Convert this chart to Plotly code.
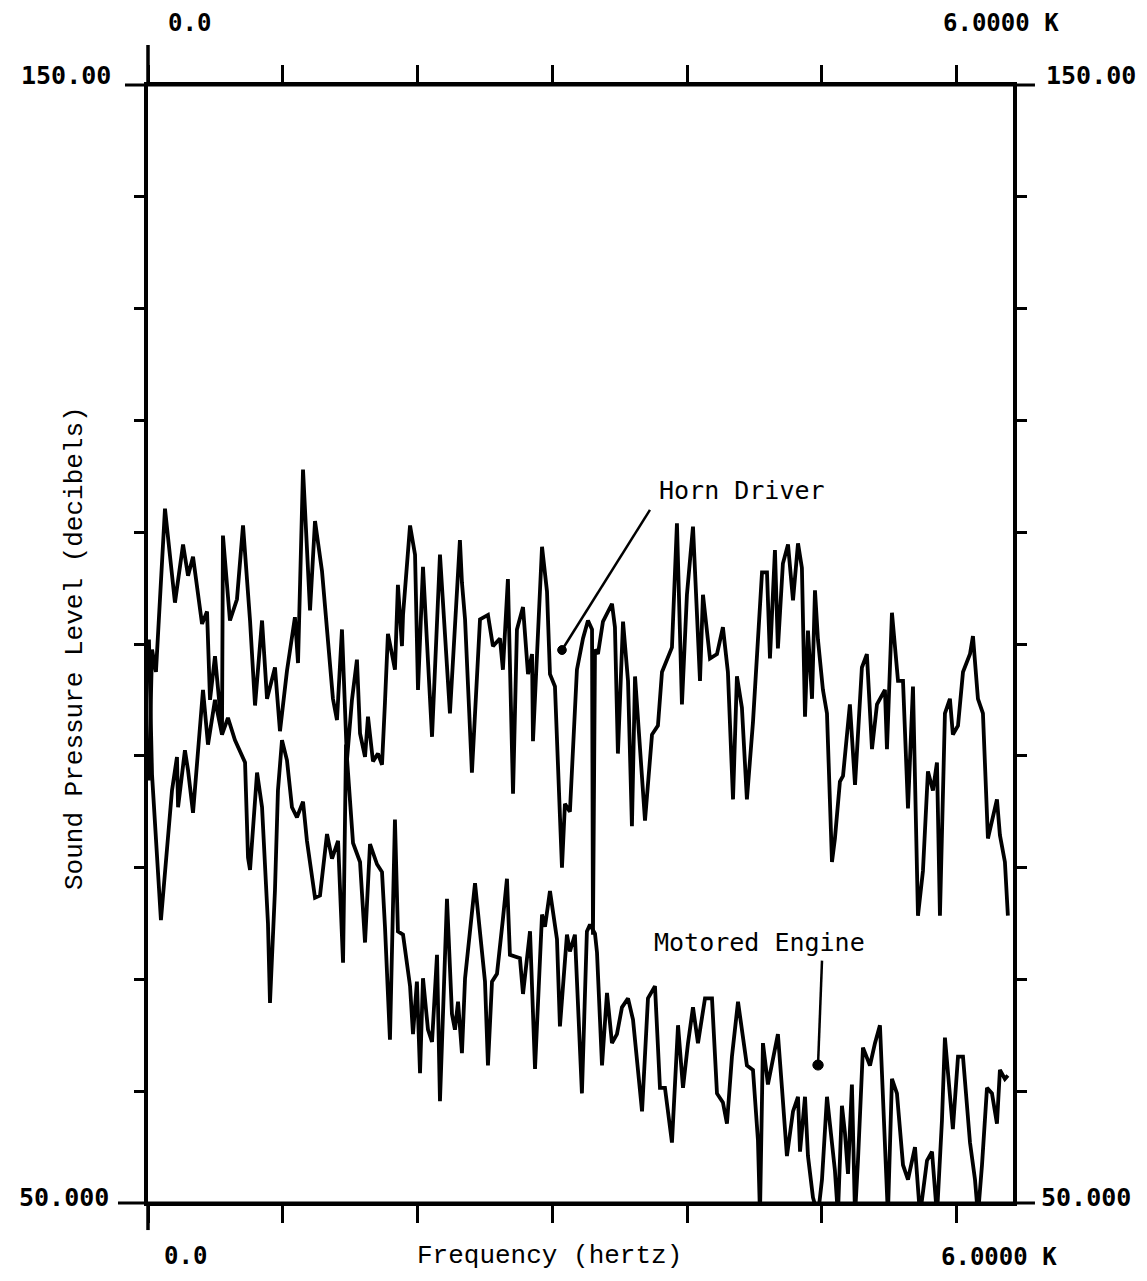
import plotly.graph_objects as go

# ---- data (frequency in Hz, level in dB) ----
horn_freq = [7, 30, 59, 126, 200, 260, 297, 334, 401, 438,
             460, 497, 549, 556, 608, 660, 705, 757, 794, 846,
             883, 942, 979, 1031, 1090, 1113, 1150, 1202, 1239, 1291,
             1372, 1402, 1439, 1476, 1513, 1550, 1573, 1610, 1632, 1669,
             1706, 1736, 1758, 1780, 1810, 1832, 1854, 1884, 1892, 1944,
             1981, 2003, 2040, 2107, 2166, 2188, 2240, 2314, 2329, 2352,
             2403, 2463, 2522, 2559, 2611, 2633, 2670, 2708, 2737, 2782,
             2819, 2849, 2856, 2923, 2960, 2982, 3019, 3056, 3071, 3093,
             3130, 3182, 3227, 3264, 3294, 3301, 3316, 3338, 3375, 3442,
             3464, 3486, 3524, 3561, 3590, 3613, 3650, 3687, 3739, 3783,
             3813, 3887, 3924, 3961, 3998, 4043, 4095, 4117, 4169, 4221,
             4265, 4302, 4340, 4369, 4406, 4443, 4488, 4555, 4592, 4614,
             4651, 4673, 4710, 4748, 4785, 4822, 4851, 4874, 4896, 4926,
             4948, 4970, 5007, 5037, 5074, 5096, 5133, 5156, 5207, 5245,
             5296, 5333, 5371, 5408, 5467, 5482, 5519, 5564, 5601, 5638,
             5675, 5712, 5749, 5786, 5823, 5853, 5875, 5912, 5949, 5971,
             6009, 6046, 6098, 6120, 6157, 6194, 6231, 6298, 6320, 6357, 6379]
horn_db = [87.8, 99.5, 97.5, 112.1, 103.7, 108.9, 106.1, 107.8, 101.8, 102.9,
           95.0, 98.9, 92.2, 109.7, 102.1, 104.0, 110.6, 102.1, 94.5, 102.1,
           95.1, 97.9, 92.2, 97.6, 102.4, 98.3, 115.6, 103.0, 111.0, 106.5,
           95.1, 93.2, 101.3, 89.6, 95.0, 98.6, 92.0, 89.9, 93.5, 89.5,
           90.2, 89.2, 94.8, 100.9, 99.1, 97.7, 105.3, 99.8, 102.6, 110.6,
           108.0, 95.9, 106.9, 91.7, 108.0, 103.7, 93.8, 109.3, 105.5, 102.2,
           88.5, 102.2, 102.6, 99.8, 100.5, 97.7, 105.8, 86.6, 101.3, 103.3,
           97.3, 99.1, 91.3, 108.7, 104.7, 97.3, 96.2, 84.6, 80.0, 85.7,
           85.0, 97.7, 100.5, 102.1, 101.3, 74.0, 99.5, 99.1, 102.0, 103.6,
           101.5, 90.2, 102.0, 96.7, 83.7, 97.1, 90.2, 84.2, 91.9, 92.7,
           97.5, 99.7, 110.8, 94.6, 104.4, 110.5, 96.7, 104.4, 98.7, 99.1,
           101.5, 97.5, 86.1, 97.1, 94.3, 86.1, 93.0, 106.4, 106.4, 98.7,
           108.4, 99.6, 107.2, 108.9, 103.9, 109.0, 106.8, 93.5, 101.2, 95.1,
           104.8, 100.4, 95.9, 93.8, 80.5, 82.6, 87.7, 88.2, 94.6, 87.4,
           97.9, 99.1, 90.6, 94.6, 95.9, 90.6, 102.8, 96.7, 96.7, 85.3,
           96.2, 75.7, 79.7, 88.6, 86.9, 89.4, 75.7, 93.8, 95.1, 91.9,
           92.7, 97.5, 99.1, 100.7, 95.1, 93.8, 82.6, 86.1, 82.9, 80.5, 75.7]

engine_freq = [7, 30, 96, 126, 178, 215, 223, 274, 297, 334,
               371, 408, 445, 497, 549, 593, 645, 720, 742, 757,
               809, 846, 890, 905, 942, 964, 994, 1031, 1068, 1105,
               1150, 1179, 1239, 1276, 1328, 1365, 1410, 1447, 1469, 1521,
               1573, 1610, 1647, 1699, 1736, 1758, 1795, 1832, 1854, 1892,
               1944, 1966, 1995, 2018, 2040, 2077, 2107, 2144, 2166, 2218,
               2255, 2277, 2300, 2329, 2352, 2426, 2500, 2522, 2552, 2589,
               2633, 2663, 2685, 2759, 2782, 2834, 2871, 2923, 2945, 2982,
               3034, 3056, 3108, 3130, 3167, 3219, 3256, 3279, 3316, 3331,
               3368, 3405, 3442, 3479, 3516, 3561, 3598, 3665, 3709, 3761,
               3798, 3835, 3887, 3932, 3969, 4006, 4043, 4080, 4132, 4184,
               4221, 4265, 4295, 4332, 4377, 4443, 4488, 4525, 4540, 4562,
               4599, 4636, 4673, 4703, 4740, 4785, 4822, 4837, 4874, 4896,
               4933, 4970, 5000, 5037, 5074, 5096, 5118, 5148, 5170, 5193,
               5222, 5245, 5267, 5304, 5356, 5393, 5430, 5467, 5489, 5519,
               5556, 5601, 5638, 5690, 5727, 5779, 5816, 5853, 5890, 5912,
               5934, 5971, 6009, 6046, 6098, 6135, 6157, 6187, 6224, 6261,
               6298, 6320, 6357, 6379]
engine_db = [100.4, 88.3, 75.3, 79.5, 86.9, 89.9, 85.4, 90.5, 88.7, 84.9,
             90.5, 95.9, 91.0, 95.0, 91.9, 93.4, 91.4, 89.4, 80.9, 79.8,
             88.5, 85.4, 75.0, 67.9, 78.0, 86.9, 91.4, 89.6, 85.4, 84.5,
             85.9, 82.4, 77.3, 77.5, 83.0, 80.8, 82.4, 71.5, 91.0, 82.2,
             80.5, 73.3, 82.1, 80.3, 79.6, 74.7, 64.6, 84.3, 74.3, 74.0,
             69.4, 65.1, 69.8, 61.6, 70.1, 65.5, 64.4, 72.2, 59.1, 77.2,
             66.9, 65.5, 68.0, 63.4, 70.1, 78.6, 69.8, 62.3, 69.8, 70.5,
             75.4, 79.0, 72.2, 71.9, 68.7, 74.3, 62.0, 75.8, 74.7, 77.9,
             73.6, 65.8, 74.0, 72.5, 74.0, 59.8, 74.3, 74.9, 74.1, 72.4,
             62.3, 68.8, 64.3, 65.1, 67.5, 68.3, 66.4, 58.2, 68.3, 69.4,
             60.3, 60.3, 55.4, 65.9, 60.3, 64.3, 67.5, 64.3, 68.3, 68.3,
             59.8, 59.0, 57.1, 63.1, 68.0, 62.3, 61.9, 55.6, 48.9, 64.3,
             60.6, 62.7, 65.1, 60.3, 54.2, 58.2, 59.5, 54.6, 59.5, 54.2,
             50.5, 48.9, 52.1, 59.5, 55.4, 52.9, 48.9, 58.7, 56.3, 52.6,
             60.6, 48.9, 53.8, 63.9, 62.3, 64.3, 65.9, 56.3, 48.9, 61.1,
             59.8, 53.4, 52.1, 55.0, 48.9, 53.8, 54.6, 48.9, 57.4, 64.8,
             61.9, 56.6, 63.1, 63.1, 55.4, 52.1, 48.9, 53.4, 60.3, 59.8,
             57.1, 61.9, 61.1, 61.4]

x_tick_vals = [0, 1000, 2000, 3000, 4000, 5000, 6000]
y_tick_vals = [60, 70, 80, 90, 100, 110, 120, 130, 140]
x_range = [0, 6417]
y_range = [50, 150]

n_h = min(len(horn_freq), len(horn_db))
n_e = min(len(engine_freq), len(engine_db))

fig = go.Figure()
fig.add_trace(go.Scatter(x=horn_freq[:n_h], y=horn_db[:n_h], mode="lines",
                         line=dict(color="black", width=3.8), name="Horn Driver"))
fig.add_trace(go.Scatter(x=engine_freq[:n_e], y=engine_db[:n_e], mode="lines",
                         line=dict(color="black", width=3.8), name="Motored Engine"))

# page body has an 8 px margin, so the figure is a bit smaller than the window
fig.update_layout(
    width=1131, height=1265,
    margin=dict(l=140, r=126, t=77, b=70),
    paper_bgcolor="white", plot_bgcolor="white",
    showlegend=False,
)
fig.update_xaxes(range=x_range, tickvals=x_tick_vals, ticktext=[""] * len(x_tick_vals),
                 ticks="outside", ticklen=17, tickwidth=2.5, tickcolor="black",
                 showline=True, linewidth=3, linecolor="black", mirror="ticks",
                 showgrid=False, zeroline=False)
fig.update_yaxes(range=y_range, tickvals=y_tick_vals, ticktext=[""] * len(y_tick_vals),
                 ticks="outside", ticklen=10, tickwidth=2.5, tickcolor="black",
                 showline=True, linewidth=4, linecolor="black", mirror="ticks",
                 showgrid=False, zeroline=False)

mono = "DejaVu Sans Mono"
typew = "Liberation Mono"

def ann(text, x, y, size, family=mono, xanchor="center", yanchor="middle", angle=0):
    fig.add_annotation(text=text, x=x, y=y, xref="paper", yref="paper",
                       showarrow=False, xanchor=xanchor, yanchor=yanchor, borderpad=0,
                       textangle=angle, font=dict(family=family, size=size, color="black"))

# axis end labels
ann("<b>150.00</b>", -0.0416, 1.0089, 25, xanchor="right")
ann("<b>50.000</b>", -0.0439, 0.0045, 25, xanchor="right")
ann("<b>150.00</b>", 1.037, 1.0089, 25, xanchor="left")
ann("<b>50.000</b>", 1.0312, 0.0045, 25, xanchor="left")
ann("<b>0.0</b>", 0.0474, 1.0555, 24)
ann("<b>6.0000 K</b>", 0.986, 1.0555, 24)
ann("<b>0.0</b>", 0.0428, -0.0474, 24)
ann("<b>6.0000 K</b>", 0.984, -0.0484, 24)

# titles
ann("Frequency (hertz)", 0.4647, -0.0474, 26, family=typew)
ann("Sound Pressure Level (decibels)", -0.0844, 0.4964, 26, family=typew, angle=-90)

# trace labels
ann("Horn Driver", 0.6867, 0.6377, 25)
ann("Motored Engine", 0.7075, 0.2326, 25)

line_style = dict(color="black", width=3)
# axis line extensions
fig.add_shape(type="line", xref="paper", yref="paper", x0=-0.0266, x1=1.0254, y0=1, y1=1, line=line_style)
fig.add_shape(type="line", xref="paper", yref="paper", x0=-0.0347, x1=1.0254, y0=0, y1=0, line=line_style)
fig.add_shape(type="line", xref="paper", yref="paper", x0=0, x1=0, y0=1, y1=1.0358, line=dict(color="black", width=3.5))
fig.add_shape(type="line", xref="paper", yref="paper", x0=0, x1=0, y0=0, y1=-0.0242, line=dict(color="black", width=3.5))

# pointers
fig.add_shape(type="line", xref="paper", yref="paper", x0=0.5803, y0=0.6199, x1=0.4786, y1=0.4946,
              line=dict(color="black", width=2.5))
fig.add_shape(type="circle", xref="paper", yref="paper", x0=0.4786 - 0.005, x1=0.4786 + 0.005,
              y0=0.4946 - 0.004, y1=0.4946 + 0.004, fillcolor="black", line=dict(color="black", width=1))
fig.add_shape(type="line", xref="paper", yref="paper", x0=0.7792, y0=0.2168, x1=0.7746, y1=0.1234,
              line=dict(color="black", width=2.5))
fig.add_shape(type="circle", xref="paper", yref="paper", x0=0.7746 - 0.006, x1=0.7746 + 0.006,
              y0=0.1234 - 0.0045, y1=0.1234 + 0.0045, fillcolor="black", line=dict(color="black", width=1))

fig.write_html("out.html")
